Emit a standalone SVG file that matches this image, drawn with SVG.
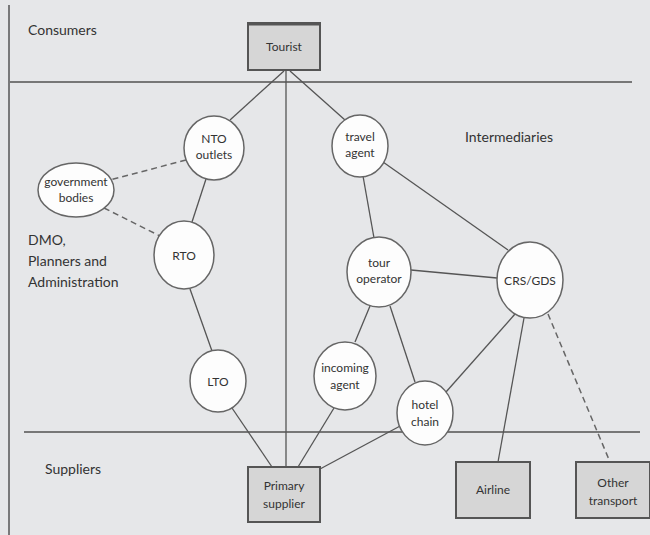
<svg xmlns="http://www.w3.org/2000/svg" width="650" height="535" viewBox="0 0 650 535">
<style>
.lbl{font-family:Lato,"Liberation Sans",sans-serif;font-size:14px;fill:#333}
.nt{font-family:Lato,"Liberation Sans",sans-serif;font-size:12px;fill:#333;text-anchor:middle}
.c{fill:#fdfdfd;stroke:#666;stroke-width:1.5}
.b{fill:#d6d6d6;stroke:#555;stroke-width:2}
.e{stroke:#555;stroke-width:1.3;fill:none}
.d{stroke:#666;stroke-width:1.5;fill:none;stroke-dasharray:6,4}
.sep{stroke:#777;stroke-width:2}
</style>
<rect x="0" y="0" width="650" height="535" fill="#e6e7e9"/>
<line x1="9" y1="5" x2="9" y2="535" stroke="#555" stroke-width="1.5"/>
<line class="sep" x1="10" y1="82" x2="632" y2="82"/>
<line class="sep" x1="24" y1="432" x2="640" y2="432"/>
<text class="lbl" x="28" y="35">Consumers</text>
<text class="lbl" x="465" y="142">Intermediaries</text>
<text class="lbl" x="28" y="245">DMO,</text>
<text class="lbl" x="28" y="266">Planners and</text>
<text class="lbl" x="28" y="287">Administration</text>
<text class="lbl" x="45" y="474">Suppliers</text>
<g id="connectors">
<line class="e" x1="284" y1="71" x2="230" y2="120"/>
<line class="e" x1="290" y1="71" x2="345" y2="120"/>
<line class="e" x1="286" y1="71" x2="286" y2="467"/>
<line class="d" x1="186" y1="160" x2="110" y2="180"/>
<line class="d" x1="104" y1="208" x2="160" y2="236"/>
<line class="e" x1="206" y1="179" x2="192" y2="222"/>
<line class="e" x1="190" y1="289" x2="212" y2="351"/>
<line class="e" x1="232" y1="408" x2="272" y2="467"/>
<line class="e" x1="363" y1="176" x2="374" y2="238"/>
<line class="e" x1="383" y1="162" x2="508" y2="250"/>
<line class="e" x1="411" y1="270" x2="497" y2="278"/>
<line class="e" x1="370" y1="306" x2="355" y2="342"/>
<line class="e" x1="390" y1="306" x2="415" y2="382"/>
<line class="e" x1="515" y1="314" x2="446" y2="392"/>
<line class="e" x1="524" y1="318" x2="498" y2="462"/>
<line class="d" x1="548" y1="314" x2="610" y2="462"/>
<line class="e" x1="334" y1="408" x2="298" y2="467"/>
<line class="e" x1="402" y1="425" x2="320" y2="469"/>
</g>
<g id="tourist"><rect class="b" x="248" y="23" width="72" height="47"/><line x1="248" y1="24" x2="320" y2="24" stroke="#555" stroke-width="3"/><text class="nt" x="284" y="51">Tourist</text></g>
<g id="nto"><ellipse class="c" cx="214" cy="148" rx="30" ry="32"/><text class="nt" x="214" y="143">NTO</text><text class="nt" x="214" y="159">outlets</text></g>
<g id="travel-agent"><ellipse class="c" cx="360" cy="146" rx="28" ry="31"/><text class="nt" x="360" y="141">travel</text><text class="nt" x="360" y="157">agent</text></g>
<g id="government"><ellipse class="c" cx="76" cy="190" rx="38" ry="27"/><text class="nt" x="76" y="186">government</text><text class="nt" x="76" y="202">bodies</text></g>
<g id="rto"><ellipse class="c" cx="184" cy="255" rx="30" ry="34"/><text class="nt" x="184" y="260">RTO</text></g>
<g id="tour-operator"><ellipse class="c" cx="379" cy="272" rx="32" ry="35"/><text class="nt" x="379" y="267">tour</text><text class="nt" x="379" y="283">operator</text></g>
<g id="crs"><ellipse class="c" cx="530" cy="280" rx="33" ry="38"/><text class="nt" x="530" y="285">CRS/GDS</text></g>
<g id="lto"><ellipse class="c" cx="218" cy="381" rx="28" ry="31"/><text class="nt" x="218" y="386">LTO</text></g>
<g id="incoming"><ellipse class="c" cx="345" cy="376" rx="31" ry="34"/><text class="nt" x="345" y="372">incoming</text><text class="nt" x="345" y="389">agent</text></g>
<g id="hotel"><ellipse class="c" cx="425" cy="413" rx="28" ry="32"/><text class="nt" x="425" y="409">hotel</text><text class="nt" x="425" y="426">chain</text></g>
<g id="primary"><rect class="b" x="248" y="467" width="72" height="55"/><text class="nt" x="284" y="490">Primary</text><text class="nt" x="284" y="508">supplier</text></g>
<g id="airline"><rect class="b" x="456" y="462" width="74" height="56"/><text class="nt" x="493" y="494">Airline</text></g>
<g id="other"><rect class="b" x="576" y="462" width="74" height="56"/><text class="nt" x="613" y="487">Other</text><text class="nt" x="613" y="505">transport</text></g>
</svg>
